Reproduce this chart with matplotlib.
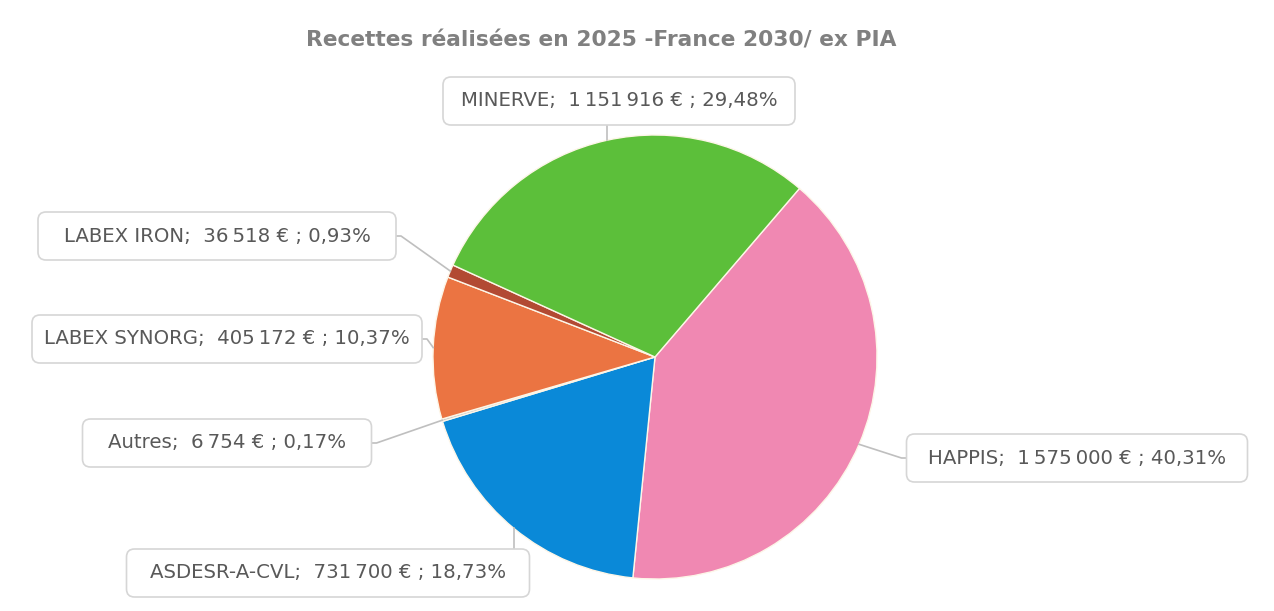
import numpy as np
import matplotlib
matplotlib.use("Agg")
import matplotlib.pyplot as plt
from matplotlib.patches import FancyBboxPatch

# data (clockwise from the top-right)
labels = ["HAPPIS", "ASDESR-A-CVL", "Autres", "LABEX SYNORG", "LABEX IRON", "MINERVE"]
values = [1575000, 731700, 6754, 405172, 36518, 1151916]
colors = ["#f088b2", "#0a89d8", "#c8c8c8", "#eb7442", "#b24a33", "#5cbf3a"]

# label box centres in pixels (x, y from top) and widths
box_pos = [(1077, 458), (328, 573), (227, 443), (227, 339), (217, 236), (619, 101)]
box_w = [341, 403, 289, 390, 358, 352]
box_h = 48

W, H = 1274, 611
fig = plt.figure(figsize=(W / 100, H / 100), dpi=100)
ax = fig.add_axes([0, 0, 1, 1])

cx, cy, r = 655, H - 357, 222
start = 49.4
wedges, _ = ax.pie(values, colors=colors, startangle=start, counterclock=False,
                   center=(cx, cy), radius=r, frame=True,
                   wedgeprops=dict(edgecolor="#fdf6e8", linewidth=1.0))
ax.set_xlim(0, W)
ax.set_ylim(0, H)
ax.axis("off")

total = sum(values)


def fmt(v):
    return f"{v:,}".replace(",", "\u202f")


for w, lab, v, (bx, by), bw in zip(wedges, labels, values, box_pos, box_w):
    pct = f"{100 * v / total:.2f}".replace(".", ",")
    txt = f"{lab};  {fmt(v)} € ; {pct}%"
    by = H - by
    box = FancyBboxPatch((bx - bw / 2 + 8, by - box_h / 2 + 8), bw - 16, box_h - 16,
                         boxstyle="round,pad=8", fc="white", ec="#d6d6d6", lw=1.2,
                         zorder=3)
    ax.add_patch(box)
    ax.text(bx, by, txt, ha="center", va="center", fontsize=14.2, color="#595959",
            family="DejaVu Sans", zorder=4)
    mid = np.deg2rad((w.theta1 + w.theta2) / 2)
    px, py = cx + r * np.cos(mid), cy + r * np.sin(mid)
    # connect to the closest box edge
    if abs(px - bx) < bw / 2:
        ey = by + box_h / 2 if py > by else by - box_h / 2
        ax.plot([px, px], [py, ey], color="#bfbfbf", lw=1.2, zorder=2)
    else:
        ex = bx + bw / 2 if px > bx else bx - bw / 2
        kx = ex + 5 if px > bx else ex - 5
        ax.plot([px, kx, ex], [py, by, by], color="#bfbfbf", lw=1.2, zorder=2)

ax.text(601, H - 40, "Recettes réalisées en 2025 -France 2030/ ex PIA",
        ha="center", va="center", fontsize=15.7, fontweight="bold", color="#808080")

fig.savefig("out.png", dpi=100)
